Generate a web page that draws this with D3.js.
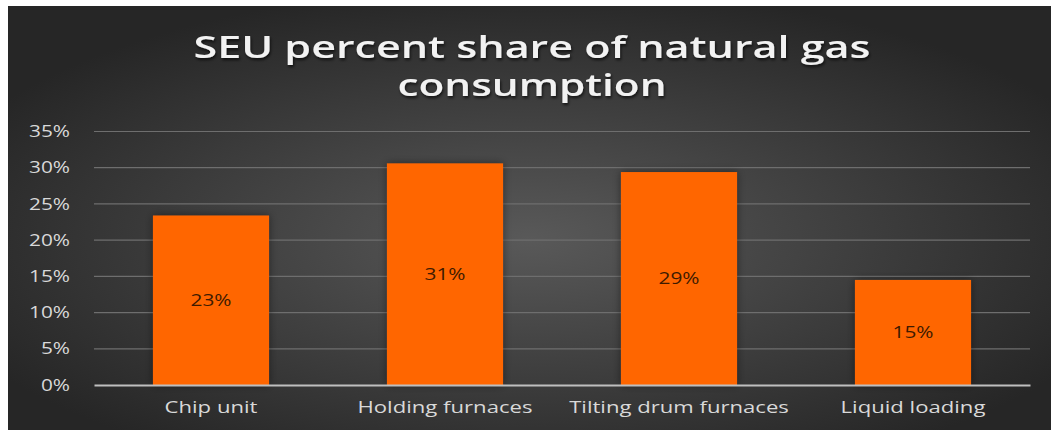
<!DOCTYPE html>
<html>
<head>
<meta charset="utf-8">
<script src="https://cdn.jsdelivr.net/npm/d3@7"></script>
<style>
  html, body { margin: 0; padding: 0; background: #fff; }
  svg { display: block; }
</style>
</head>
<body>
<svg id="chart" width="1051" height="430"></svg>
<script>
// chart data
const categories = ["Chip unit", "Holding furnaces", "Tilting drum furnaces", "Liquid loading"];
const shares = [0.234, 0.306, 0.294, 0.145];
const shareLabels = ["23%", "31%", "29%", "15%"];
const yTicks = [0, 0.05, 0.10, 0.15, 0.20, 0.25, 0.30, 0.35];
const titleLines = ["SEU percent share of natural gas", "consumption"];

const svg = d3.select("#chart");
const defs = svg.append("defs");

// the source picture is stretched sideways, so widen the texts a bit
function widen(sel, k) {
    sel.each(function() {
        const len = this.getComputedTextLength();
        d3.select(this)
            .attr("textLength", len * k)
            .attr("lengthAdjust", "spacingAndGlyphs");
    });
}

// background gradient, lighter in the middle
const grad = defs.append("radialGradient")
    .attr("id", "bg")
    .attr("cx", "50%").attr("cy", "55%").attr("r", "60%");
grad.append("stop").attr("offset", "0%").attr("stop-color", "#595959");
grad.append("stop").attr("offset", "100%").attr("stop-color", "#262626");

const shadow = defs.append("filter").attr("id", "barShadow")
    .attr("x", "-20%").attr("y", "-20%").attr("width", "140%").attr("height", "140%");
shadow.append("feDropShadow")
    .attr("dx", 0).attr("dy", 0).attr("stdDeviation", 4)
    .attr("flood-color", "#000").attr("flood-opacity", 0.45);

const textShadow = defs.append("filter").attr("id", "textShadow");
textShadow.append("feDropShadow")
    .attr("dx", 1).attr("dy", 2).attr("stdDeviation", 1.5)
    .attr("flood-color", "#000").attr("flood-opacity", 0.7);

svg.append("rect")
    .attr("x", 8).attr("y", 6)
    .attr("width", 1043).attr("height", 424)
    .attr("fill", "url(#bg)");

// title
const titleWidths = [677, 269];
svg.append("g")
    .attr("filter", "url(#textShadow)")
    .selectAll("text")
    .data(titleLines)
    .enter().append("text")
    .attr("x", 532)
    .attr("y", (d, i) => 58 + i * 38)
    .attr("text-anchor", "middle")
    .attr("font-family", "'Open Sans', sans-serif")
    .attr("font-weight", 600)
    .attr("font-size", 30)
    .attr("fill", "#f2f2f2")
    .attr("textLength", (d, i) => titleWidths[i])
    .attr("lengthAdjust", "spacingAndGlyphs")
    .text(d => d);

// scales
const x = d3.scaleBand()
    .domain(categories)
    .range([94, 1030])
    .paddingInner(0.504)
    .paddingOuter(0.252);

const y = d3.scaleLinear()
    .domain([0, 0.35])
    .range([385, 131.5]);

// gridlines
svg.append("g")
    .selectAll("line")
    .data(yTicks.filter(t => t > 0))
    .enter().append("line")
    .attr("x1", 94).attr("x2", 1030)
    .attr("y1", d => y(d)).attr("y2", d => y(d))
    .attr("stroke", "#6e6e6e")
    .attr("stroke-width", 1.2);

// y axis labels
const yAxis = d3.axisLeft(y)
    .tickValues(yTicks)
    .tickFormat(d3.format(".0%"))
    .tickSize(0)
    .tickPadding(24);

const yG = svg.append("g")
    .attr("transform", "translate(94,0)")
    .call(yAxis);
yG.select(".domain").remove();
yG.selectAll("text")
    .attr("font-family", "'Open Sans', sans-serif")
    .attr("font-size", 16)
    .attr("fill", "#d9d9d9")
    .call(widen, 1.3);

// bars
svg.append("g")
    .selectAll("rect")
    .data(shares)
    .enter().append("rect")
    .attr("x", (d, i) => x(categories[i]))
    .attr("y", d => y(d))
    .attr("width", x.bandwidth())
    .attr("height", d => y(0) - y(d))
    .attr("fill", "#ff6600")
    .attr("filter", "url(#barShadow)");

// value labels inside bars
svg.append("g")
    .selectAll("text")
    .data(shares)
    .enter().append("text")
    .attr("x", (d, i) => x(categories[i]) + x.bandwidth() / 2)
    .attr("y", d => (y(d) + y(0)) / 2)
    .attr("dy", "0.35em")
    .attr("text-anchor", "middle")
    .attr("font-family", "'Open Sans', sans-serif")
    .attr("font-size", 16)
    .attr("fill", "#3d1a00")
    .text((d, i) => shareLabels[i])
    .call(widen, 1.3);

// x axis
const xAxis = d3.axisBottom(x).tickSize(0).tickPadding(16);
const xG = svg.append("g")
    .attr("transform", "translate(0,385)")
    .call(xAxis);
xG.select(".domain")
    .attr("stroke", "#bfbfbf")
    .attr("stroke-width", 2);
xG.selectAll("text")
    .attr("font-family", "'Open Sans', sans-serif")
    .attr("font-size", 17)
    .attr("fill", "#d9d9d9")
    .call(widen, 1.3);
</script>
</body>
</html>
